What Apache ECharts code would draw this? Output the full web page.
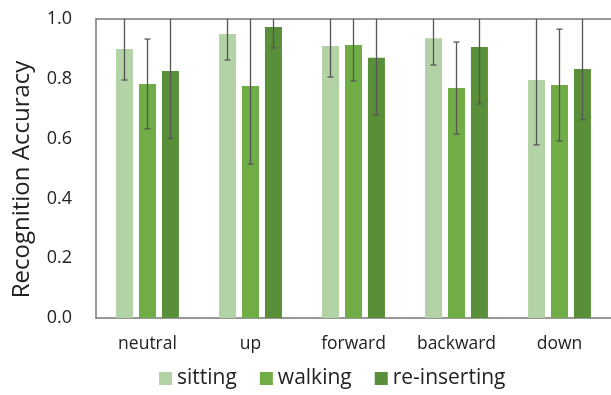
<!DOCTYPE html>
<html><head><meta charset="utf-8">
<script src="https://cdn.jsdelivr.net/npm/echarts@6/dist/echarts.min.js"></script>
<style>html,body{margin:0;padding:0;background:#fff}#c{width:611px;height:395px}</style>
</head><body><div id="c"></div>
<script>
const categories = ['neutral', 'up', 'forward', 'backward', 'down'];
const seriesNames = ['sitting', 'walking', 're-inserting'];
const sitting = [0.90, 0.95, 0.91, 0.936, 0.796];
const walking = [0.783, 0.776, 0.913, 0.769, 0.779];
const reinserting = [0.826, 0.973, 0.87, 0.906, 0.833];
// symmetric error half-widths
const sittingErr = [0.104, 0.087, 0.104, 0.090, 0.217];
const walkingErr = [0.150, 0.261, 0.120, 0.154, 0.187];
const reinsertingErr = [0.226, 0.070, 0.191, 0.190, 0.170];
const yTicks = [0, 0.2, 0.4, 0.6, 0.8, 1.0];

const values = [sitting, walking, reinserting];
const errs = [sittingErr, walkingErr, reinsertingErr];
const colors = ['#b3d2a5', '#70ad47', '#5a8f3a'];
const barW = 17, gapPx = 6;
const font = '"Open Sans", "Noto Sans", sans-serif';

const chart = echarts.init(document.getElementById('c'));
const series = [];
values.forEach((vals, i) => {
  series.push({
    name: seriesNames[i], type: 'bar', data: vals, barWidth: barW, barGap: '35%',
    itemStyle: { color: colors[i] }, xAxisIndex: 0
  });
});
values.forEach((vals, i) => {
  const data = vals.map((v, k) => [k, v - errs[i][k], v + errs[i][k]]);
  series.push({
    type: 'custom', xAxisIndex: 0, clip: true, silent: true,
    data: data, z: 10,
    renderItem: function (params, api) {
      const k = api.value(0);
      const lo = api.coord([k, api.value(1)]);
      const hi = api.coord([k, api.value(2)]);
      const x = lo[0] + (i - 1) * (barW + gapPx);
      const cap = 3;
      const st = { stroke: '#555', lineWidth: 1.3 };
      return { type: 'group', children: [
        { type: 'line', shape: { x1: x, y1: lo[1], x2: x, y2: hi[1] }, style: st },
        { type: 'line', shape: { x1: x - cap, y1: lo[1], x2: x + cap, y2: lo[1] }, style: st },
        { type: 'line', shape: { x1: x - cap, y1: hi[1], x2: x + cap, y2: hi[1] }, style: st }
      ]};
    },
    encode: { x: 0, y: [1, 2] }
  });
});

chart.setOption({
  animation: false,
  textStyle: { fontFamily: font },
  grid: { left: 96, top: 19, right: 0, bottom: 77 },
  legend: {
    data: seriesNames, bottom: 1, left: 154, itemWidth: 13, itemHeight: 13, itemGap: 23,
    icon: 'rect', textStyle: { fontSize: 21, color: '#222', fontFamily: font }
  },
  xAxis: [{
    type: 'category', data: categories,
    axisLine: { lineStyle: { color: '#777', width: 1.5 } },
    axisTick: { show: false },
    axisLabel: { fontSize: 17.5, color: '#222', margin: 17 }
  }, {
    type: 'category', data: categories, position: 'top',
    axisLine: { show: true, lineStyle: { color: '#777', width: 1.5 } },
    axisTick: { show: false }, axisLabel: { show: false }
  }],
  yAxis: {
    type: 'value', min: 0, max: 1, interval: 0.2,
    name: 'Recognition Accuracy', nameLocation: 'middle', nameGap: 62,
    nameTextStyle: { fontSize: 24, color: '#222', padding: [0, 22, 0, 0] },
    axisLine: { show: true, lineStyle: { color: '#777', width: 1.5 } },
    axisTick: { show: false }, splitLine: { show: false },
    axisLabel: { fontSize: 18, color: '#222', margin: 24, formatter: v => v.toFixed(1) }
  },
  series: series
});
</script></body></html>
